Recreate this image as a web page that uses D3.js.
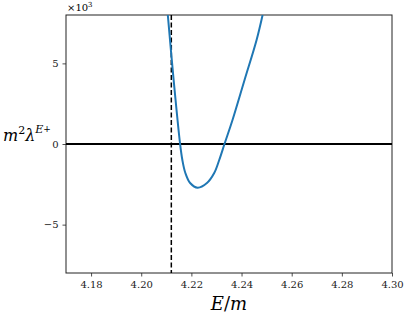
<!DOCTYPE html>
<meta charset="utf-8">
<head>
  <title>lambda E+ vs E/m</title>
  <style>
    body { margin: 0; background: #fff; }
  </style>
</head>

<script src="https://d3js.org/d3.v7.min.js"></script>

<div id="my_dataviz"></div>

<script>

// curve: E/m and m^2 lambda^{E+}
var energy = [4.2106, 4.2128, 4.2155, 4.2164, 4.2176, 4.2195, 4.2225,
              4.2262, 4.2291, 4.2311, 4.2332, 4.2364, 4.2412, 4.2460, 4.2484];
var lambdaVals = [8000, 4174, 0, -992, -1800, -2420, -2710,
                  -2420, -1800, -992, 0, 1488, 3969, 6450, 8000];

// dashed vertical marker
var threshold = 4.212;

var xTicks = [4.18, 4.20, 4.22, 4.24, 4.26, 4.28, 4.30];
var yTicks = [-5000, 0, 5000];

var serif = "'DejaVu Serif', serif";

var margin = {top: 15, right: 15, bottom: 44, left: 66},
    width = 407 - margin.left - margin.right,
    height = 317 - margin.top - margin.bottom;

var svg = d3.select("#my_dataviz")
  .append("svg")
    .attr("width", 407)
    .attr("height", 317)
  .append("g")
    .attr("transform", "translate(" + margin.left + "," + margin.top + ")");

var x = d3.scaleLinear().domain([4.17, 4.30]).range([0, width]);
var y = d3.scaleLinear().domain([-8000, 8000]).range([height, 0]);

svg.append("clipPath").attr("id", "clip")
  .append("rect").attr("width", width).attr("height", height);

// X axis
var xAxis = svg.append("g")
  .attr("transform", "translate(0," + height + ")")
  .call(d3.axisBottom(x).tickValues(xTicks).tickFormat(d3.format(".2f")).tickSize(3.5).tickPadding(4));
// Y axis
var yAxis = svg.append("g")
  .call(d3.axisLeft(y).tickValues(yTicks).tickSize(3.5).tickPadding(4)
    .tickFormat(function(d) { return d < 0 ? "\u2212" + Math.abs(d / 1000) : d / 1000; }));

[xAxis, yAxis].forEach(function(a) {
  a.attr("font-family", null);
  a.select(".domain").remove();
  a.selectAll("line").attr("stroke", "#222").attr("stroke-width", 0.8);
  a.selectAll("text")
    .style("font-family", serif)
    .style("font-size", "10px")
    .attr("fill", "#222");
});

// box
svg.append("rect")
  .attr("width", width).attr("height", height)
  .attr("fill", "none").attr("stroke", "#222").attr("stroke-width", 1);

var plot = svg.append("g").attr("clip-path", "url(#clip)");

// zero line
plot.append("line")
  .attr("x1", 0).attr("x2", width)
  .attr("y1", y(0)).attr("y2", y(0))
  .attr("stroke", "black").attr("stroke-width", 2);

// threshold
plot.append("line")
  .attr("x1", x(threshold)).attr("x2", x(threshold))
  .attr("y1", 0).attr("y2", height)
  .attr("stroke", "black").attr("stroke-width", 1.5)
  .attr("stroke-dasharray", "5,2.5");

var pts = energy.map(function(e, i) { return [e, lambdaVals[i]]; });

plot.append("path")
  .datum(pts)
  .attr("fill", "none")
  .attr("stroke", "#1f77b4")
  .attr("stroke-width", 2)
  .attr("d", d3.line()
    .curve(d3.curveCatmullRom.alpha(0.5))
    .x(function(d) { return x(d[0]); })
    .y(function(d) { return y(d[1]); }));

// offset text
svg.append("text")
  .attr("x", 1).attr("y", -4)
  .style("font-family", serif)
  .style("font-size", "10px")
  .html("\u00d710<tspan dy='-4' font-size='7px'>3</tspan>");

// x label
svg.append("text")
  .attr("x", width / 2).attr("y", height + 37)
  .style("text-anchor", "middle")
  .style("font-family", serif)
  .style("font-size", "18px")
  .html("<tspan font-style='italic'>E</tspan>/<tspan font-style='italic'>m</tspan>");

// y label
svg.append("text")
  .attr("x", -margin.left + 3).attr("y", 126)
  .style("font-family", serif)
  .style("font-size", "16px")
  .html("<tspan font-style='italic'>m</tspan><tspan dy='-7' font-size='11px'>2</tspan>" +
        "<tspan dy='7' font-style='italic'>\u03bb</tspan>" +
        "<tspan dy='-8' font-size='11px' font-style='italic'>E</tspan><tspan font-size='9px' dy='-1'>+</tspan>");

</script>
